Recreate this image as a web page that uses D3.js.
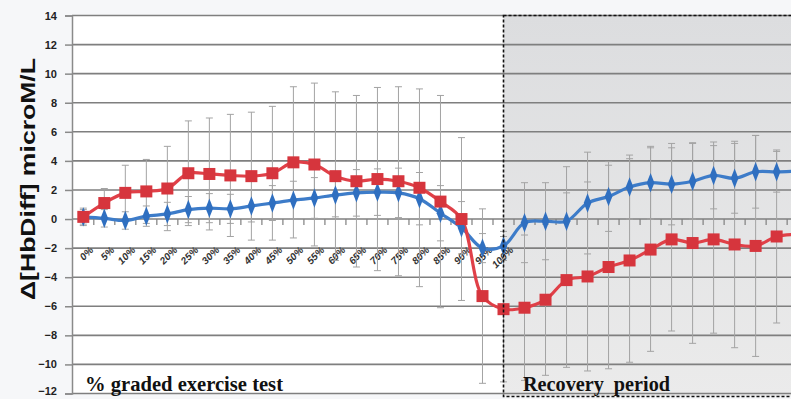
<!DOCTYPE html>
<html>
<head>
<meta charset="utf-8">
<script src="https://cdn.jsdelivr.net/npm/d3@7/dist/d3.min.js"></script>
<style>
  html, body { margin: 0; padding: 0; background: #f6f7f9; }
  svg { display: block; }
</style>
</head>
<body>
<svg id="chart" width="791" height="399"></svg>
<script>
// Exercise stages (% of graded exercise test) followed by recovery time points
const exerciseLabels = ["0%","5%","10%","15%","20%","25%","30%","35%","40%","45%","50%",
  "55%","60%","65%","70%","75%","80%","85%","90%","95%","100%"];
const recoveryKeys = ["rec1","rec2","rec3","rec4","rec5","rec6","rec7","rec8","rec9","rec10",
  "rec11","rec12","rec13","rec14"];
const categories = exerciseLabels.concat(recoveryKeys);

// Red series (squares): mean and SD
const redMean = [0.15, 1.1, 1.8, 1.9, 2.1, 3.15, 3.1, 3.0, 2.95, 3.15, 3.9,
  3.75, 2.95, 2.6, 2.75, 2.6, 2.15, 1.2, 0.0, -5.3, -6.2,
  -6.1, -5.55, -4.2, -3.95, -3.3, -2.85, -2.1, -1.4, -1.65, -1.4, -1.75, -1.85, -1.2, -1.05];
const redSD = [0.6, 1.0, 1.9, 2.2, 2.9, 3.6, 3.85, 4.2, 4.4, 4.6, 5.2,
  5.6, 5.8, 5.9, 6.3, 6.5, 6.8, 7.3, 5.6, 6.0, 5.0,
  5.0, 5.2, 6.0, 6.5, 7.0, 7.0, 7.0, 6.3, 6.9, 6.45, 7.1, 7.6, 5.95, 6.0];

// Blue series (diamonds): mean and SD
const blueMean = [0.15, 0.05, -0.1, 0.2, 0.35, 0.65, 0.75, 0.7, 0.9, 1.1, 1.3,
  1.45, 1.65, 1.8, 1.85, 1.8, 1.4, 0.4, -0.6, -2.0, -1.85,
  -0.25, -0.15, -0.15, 1.1, 1.55, 2.2, 2.5, 2.4, 2.6, 3.0, 2.8, 3.25, 3.25, 3.3];
const blueSD = [0.5, 0.6, 0.6, 0.7, 0.8, 0.9, 1.0, 1.0, 1.1, 1.2, 1.3,
  1.4, 1.5, 1.6, 1.6, 1.7, 1.8, 1.9, 1.8, 1.0, 1.0,
  2.75, 2.65, 3.75, 3.5, 2.4, 2.2, 2.5, 2.8, 2.6, 2.3, 2.4, 2.5, 1.4, 1.5];

const yTicks = [14, 12, 10, 8, 6, 4, 2, 0, -2, -4, -6, -8, -10, -12];

const svg = d3.select("#chart");
const W = 791, H = 399;
const plotLeft = 72, plotTop = 15.5, plotBottom = 393.5;
const step = 21.01;

const x = d3.scaleBand().domain(categories)
  .range([plotLeft + 0.8, plotLeft + 0.8 + categories.length * step]).padding(0);
const cx = c => x(c) + x.bandwidth() / 2;
const y = d3.scaleLinear().domain([-12, 14]).range([plotBottom, plotTop]);

// plot background
svg.append("rect").attr("x", plotLeft).attr("y", plotTop)
  .attr("width", W - plotLeft).attr("height", plotBottom - plotTop).attr("fill", "#ffffff");

// shaded recovery region
const defs = svg.append("defs");
const grad = defs.append("linearGradient").attr("id", "recFill")
  .attr("x1", 0).attr("y1", 0).attr("x2", 0).attr("y2", 1);
grad.append("stop").attr("offset", "0%").attr("stop-color", "#dcdddf");
grad.append("stop").attr("offset", "100%").attr("stop-color", "#ebebeb");

const recX0 = cx("100%");
svg.append("rect").attr("x", recX0).attr("y", plotTop)
  .attr("width", W - recX0 + 10).attr("height", plotBottom - plotTop + 3)
  .attr("fill", "url(#recFill)");

// horizontal gridlines
svg.append("g").selectAll("line").data(yTicks).join("line")
  .attr("x1", plotLeft).attr("x2", W)
  .attr("y1", d => y(d)).attr("y2", d => y(d))
  .attr("stroke", "#7f7f7f").attr("stroke-width", 1.6);

// y axis
const yAxis = d3.axisLeft(y).tickValues(yTicks).tickSize(7).tickPadding(8)
  .tickFormat(d3.format("d"));
const gy = svg.append("g").attr("transform", `translate(${plotLeft},0)`).call(yAxis);
gy.select(".domain").attr("stroke", "#8a8a8a").attr("stroke-width", 1.5);
gy.selectAll(".tick line").attr("stroke", "#8a8a8a").attr("stroke-width", 1.5);
gy.selectAll(".tick text")
  .attr("font-family", "'Liberation Sans Narrow', 'Arial Narrow', sans-serif")
  .attr("font-weight", "bold").attr("font-size", 11).attr("fill", "#222");
// the lowest label sits on the bottom edge; lift it just inside
gy.selectAll(".tick text").filter(d => d === -12).attr("dy", "0.1em");

// category axis through zero, ticks between categories
const boundaries = d3.range(1, categories.length).map(i => x(categories[i]));
svg.append("g").selectAll("line").data(boundaries).join("line")
  .attr("x1", d => d).attr("x2", d => d)
  .attr("y1", y(0)).attr("y2", y(0) + 6)
  .attr("stroke", "#7f7f7f").attr("stroke-width", 1.2);

// category labels
svg.append("g").selectAll("text").data(exerciseLabels).join("text")
  .attr("transform", d => `translate(${cx(d) + 5},${y(-2) - 3}) rotate(-45)`)
  .attr("text-anchor", "end").attr("dy", "0.8em")
  .attr("font-family", "'Liberation Sans Narrow', 'Arial Narrow', sans-serif")
  .attr("font-weight", "bold").attr("font-style", "italic")
  .attr("font-size", 10).attr("fill", "#333")
  .text(d => d);

// error bars
function errorBars(mean, sd) {
  const g = svg.append("g").attr("stroke", "#a3a3a3").attr("stroke-width", 1);
  categories.forEach((c, i) => {
    const xc = cx(c), hi = y(mean[i] + sd[i]), lo = y(mean[i] - sd[i]);
    g.append("line").attr("x1", xc).attr("x2", xc).attr("y1", hi).attr("y2", lo);
    g.append("line").attr("x1", xc - 3.5).attr("x2", xc + 3.5).attr("y1", hi).attr("y2", hi);
    g.append("line").attr("x1", xc - 3.5).attr("x2", xc + 3.5).attr("y1", lo).attr("y2", lo);
  });
}
errorBars(redMean, redSD);
errorBars(blueMean, blueSD);

// series lines
const line = d3.line().x((d, i) => cx(categories[i])).y(d => y(d))
  .curve(d3.curveCatmullRom.alpha(0.5));

svg.append("path").datum(blueMean).attr("d", line)
  .attr("fill", "none").attr("stroke", "#3d7cc9").attr("stroke-width", 3.2);
svg.append("path").datum(redMean).attr("d", line)
  .attr("fill", "none").attr("stroke", "#e04048").attr("stroke-width", 3.2);

// markers
svg.append("g").selectAll("path").data(blueMean).join("path")
  .attr("transform", (d, i) => `translate(${cx(categories[i])},${y(d)}) scale(0.85,1.25)`)
  .attr("d", d3.symbol(d3.symbolDiamond, 70)())
  .attr("fill", "#2f6fc0");
svg.append("g").selectAll("rect").data(redMean).join("rect")
  .attr("x", (d, i) => cx(categories[i]) - 6).attr("y", d => y(d) - 6)
  .attr("width", 12).attr("height", 12)
  .attr("fill", "#d6353d");

// dashed border of the recovery region
svg.append("rect").attr("x", recX0).attr("y", plotTop)
  .attr("width", W - recX0 + 10).attr("height", plotBottom - plotTop + 3)
  .attr("fill", "none").attr("stroke", "#111").attr("stroke-width", 1.6)
  .attr("stroke-dasharray", "3,2");

// phase captions
svg.append("text").attr("x", 85).attr("y", 391)
  .attr("font-family", "'Liberation Serif', 'Times New Roman', serif")
  .attr("font-weight", "bold").attr("font-size", 21).attr("fill", "#111")
  .attr("textLength", 198).attr("lengthAdjust", "spacingAndGlyphs")
  .text("% graded exercise test");
svg.append("text").attr("x", 523).attr("y", 391)
  .attr("font-family", "'Liberation Serif', 'Times New Roman', serif")
  .attr("font-weight", "bold").attr("font-size", 21).attr("fill", "#111")
  .attr("textLength", 147).attr("lengthAdjust", "spacingAndGlyphs")
  .attr("xml:space", "preserve")
  .text("Recovery  period");

// y axis title
svg.append("text")
  .attr("transform", "translate(35,179) rotate(-90)")
  .attr("text-anchor", "middle")
  .attr("font-family", "'Liberation Sans', Arial, sans-serif")
  .attr("font-weight", "bold").attr("font-size", 21).attr("fill", "#111")
  .attr("textLength", 242).attr("lengthAdjust", "spacingAndGlyphs")
  .text("Δ[HbDiff] microM/L");
</script>
</body>
</html>
